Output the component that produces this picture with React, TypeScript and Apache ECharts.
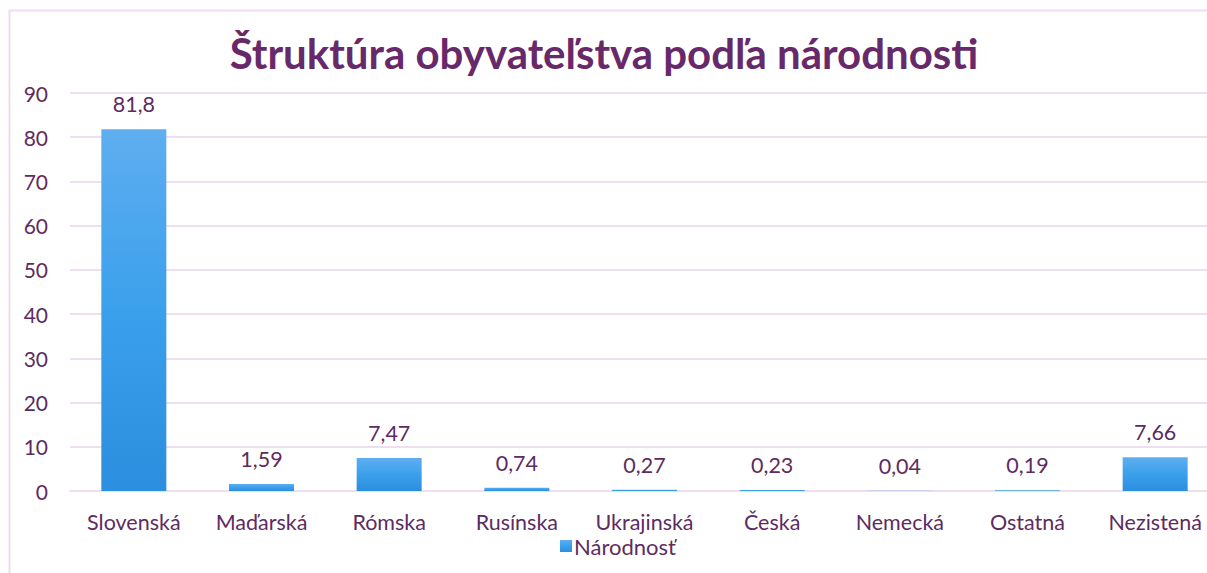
import React, { useEffect, useRef } from "react";
import * as echarts from "echarts";

const categories = ["Slovenská", "Maďarská", "Rómska", "Rusínska", "Ukrajinská", "Česká", "Nemecká", "Ostatná", "Nezistená"];
const values = [81.8, 1.59, 7.47, 0.74, 0.27, 0.23, 0.04, 0.19, 7.66];
const seriesName = "Národnosť";
const titleText = "Štruktúra obyvateľstva podľa národnosti";

const TEXT = "#5E2B61";
const GRID = "#EFDDF0";
const FONT = "Lato, 'Open Sans', sans-serif";

export default function App() {
  const ref = useRef<HTMLDivElement>(null);
  useEffect(() => {
    const chart = echarts.init(ref.current!, null, { renderer: "svg" });
    chart.setOption({
      animation: false,
      backgroundColor: "#ffffff",
      textStyle: { fontFamily: FONT },
      title: {
        text: titleText,
        left: 599,
        top: 27,
        textAlign: "center",
        textStyle: { color: "#68296A", fontSize: 42, fontWeight: "bold", fontFamily: FONT },
      },
      graphic: [
        {
          type: "rect",
          shape: { x: 9.5, y: 10.5, width: 1400, height: 800 },
          style: { fill: "none", stroke: "#EEDCF0", lineWidth: 2 },
          silent: true,
        },
      ],
      legend: {
        data: [seriesName],
        left: 555,
        top: 530,
        itemWidth: 12,
        itemHeight: 12,
        itemGap: 4,
        icon: "rect",
        textStyle: { color: TEXT, fontSize: 22, fontFamily: FONT, padding: [0, 0, 0, -3] },
      },
      grid: { left: 70, top: 93, width: 1149, height: 398, containLabel: false },
      xAxis: {
        type: "category",
        data: categories,
        axisLine: { lineStyle: { color: GRID, width: 2 } },
        axisTick: { show: false },
        axisLabel: { color: TEXT, fontSize: 21.5, fontFamily: FONT, margin: 20, interval: 0 },
      },
      yAxis: {
        type: "value",
        min: 0,
        max: 90,
        interval: 10,
        axisLine: { show: false },
        axisTick: { show: false },
        splitLine: { lineStyle: { color: GRID, width: 2 } },
        axisLabel: { color: TEXT, fontSize: 21, fontFamily: FONT, margin: 22 },
      },
      series: [
        {
          name: seriesName,
          type: "bar",
          data: values,
          barWidth: 65,
          itemStyle: {
            color: new echarts.graphic.LinearGradient(0, 0, 0, 1, [
              { offset: 0, color: "#5FAEF0" },
              { offset: 0.5, color: "#3BA0EC" },
              { offset: 1, color: "#2B8EDE" },
            ]),
          },
          label: {
            show: true,
            position: "top",
            distance: 14,
            color: TEXT,
            fontSize: 21.5,
            fontFamily: FONT,
            formatter: (p: any) => String(p.value).replace(".", ","),
          },
        },
      ],
    });
    return () => chart.dispose();
  }, []);
  return <div ref={ref} style={{ position: "fixed", left: 0, top: 0, width: 1260, height: 573 }} />;
}
